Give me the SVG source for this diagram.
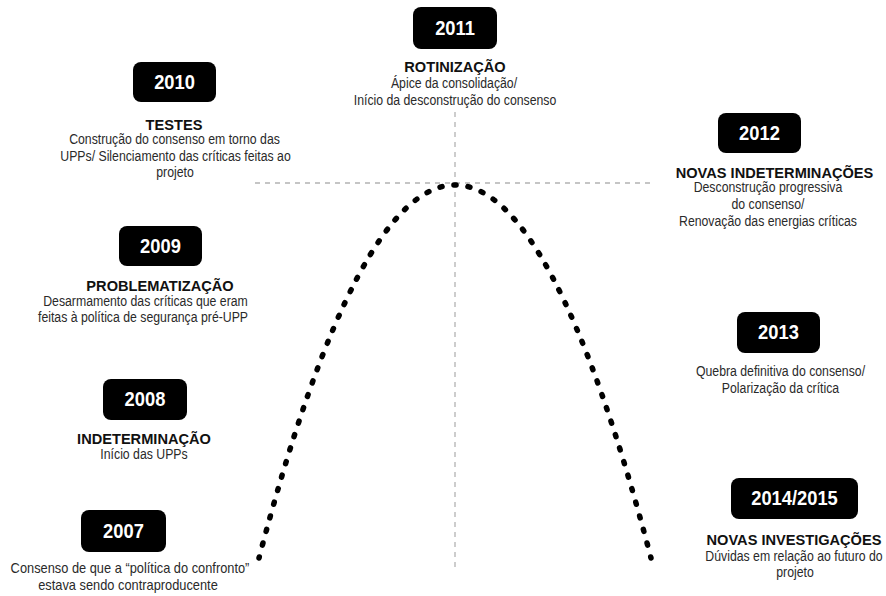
<svg xmlns="http://www.w3.org/2000/svg" width="886" height="596" viewBox="0 0 886 596">
<style>
  .box { fill: #000; }
  .yr { font-family: "Liberation Sans", Arial, sans-serif; font-weight: bold; font-size: 19.5px; fill: #fff; text-anchor: middle; }
  .ttl { font-family: "Liberation Sans", Arial, sans-serif; font-weight: bold; font-size: 14.6px; fill: #111; text-anchor: middle; }
  .txt { font-family: "Liberation Sans", Arial, sans-serif; font-size: 13.8px; fill: #2a2a2a; text-anchor: middle; }
  .guide { fill: none; stroke: #b3b3b3; stroke-width: 1.3; stroke-dasharray: 5 5; }
  .curve { fill: none; stroke: #000; stroke-width: 5.5; stroke-linecap: round; stroke-dasharray: 0.15 0.85; stroke-dashoffset: 0.075; }
</style>
<rect width="886" height="596" fill="#fff"/>
<g id="connectors">
  <line class="guide" x1="455" y1="112" x2="455" y2="572"/>
  <line class="guide" x1="255" y1="183" x2="655" y2="183"/>
  <path class="curve" pathLength="62" d="M259,558 Q455,-188 651,558"/>
</g>
<g id="n2007">
  <rect class="box" x="81" y="510" width="85" height="42" rx="8"/>
  <text class="yr" x="123.5" y="538" transform="translate(123.5,0) scale(0.94,1) translate(-123.5,0)">2007</text>
  <text class="txt" transform="translate(130,573) scale(0.93,1)">Consenso de que a “política do confronto”</text>
  <text class="txt" transform="translate(128,590) scale(0.93,1)">estava sendo contraproducente</text>
</g>
<g id="n2008">
  <rect class="box" x="103" y="379" width="84" height="41" rx="8"/>
  <text class="yr" x="145" y="406.5" transform="translate(145,0) scale(0.94,1) translate(-145,0)">2008</text>
  <text class="ttl" x="144" y="444">INDETERMINAÇÃO</text>
  <text class="txt" transform="translate(144,459) scale(0.89,1)">Início das UPPs</text>
</g>
<g id="n2009">
  <rect class="box" x="119" y="226" width="83" height="40" rx="8"/>
  <text class="yr" x="160.5" y="253" transform="translate(160.5,0) scale(0.94,1) translate(-160.5,0)">2009</text>
  <text class="ttl" x="160" y="291">PROBLEMATIZAÇÃO</text>
  <text class="txt" transform="translate(145.5,305.5) scale(0.89,1)">Desarmamento das críticas que eram</text>
  <text class="txt" transform="translate(143,322) scale(0.89,1)">feitas à política de segurança pré-UPP</text>
</g>
<g id="n2010">
  <rect class="box" x="133" y="62" width="83" height="40" rx="8"/>
  <text class="yr" x="174.5" y="89" transform="translate(174.5,0) scale(0.94,1) translate(-174.5,0)">2010</text>
  <text class="ttl" x="174" y="130">TESTES</text>
  <text class="txt" transform="translate(174.5,144) scale(0.89,1)">Construção do consenso em torno das</text>
  <text class="txt" transform="translate(175.5,160.5) scale(0.89,1)">UPPs/ Silenciamento das críticas feitas ao</text>
  <text class="txt" transform="translate(175,177) scale(0.89,1)">projeto</text>
</g>
<g id="n2011">
  <rect class="box" x="413" y="7" width="84" height="42" rx="8"/>
  <text class="yr" x="455" y="35" transform="translate(455,0) scale(0.94,1) translate(-455,0)">2011</text>
  <text class="ttl" x="455" y="72">ROTINIZAÇÃO</text>
  <text class="txt" transform="translate(454,88) scale(0.89,1)">Ápice da consolidação/</text>
  <text class="txt" transform="translate(455,105) scale(0.89,1)">Início da desconstrução do consenso</text>
</g>
<g id="n2012">
  <rect class="box" x="718" y="113" width="83" height="40" rx="8"/>
  <text class="yr" x="759.5" y="140" transform="translate(759.5,0) scale(0.94,1) translate(-759.5,0)">2012</text>
  <text class="ttl" x="774.5" y="178">NOVAS INDETERMINAÇÕES</text>
  <text class="txt" transform="translate(768,192) scale(0.89,1)">Desconstrução progressiva</text>
  <text class="txt" transform="translate(768,209) scale(0.89,1)">do consenso/</text>
  <text class="txt" transform="translate(768,226) scale(0.89,1)">Renovação das energias críticas</text>
</g>
<g id="n2013">
  <rect class="box" x="737" y="312" width="83" height="41" rx="8"/>
  <text class="yr" x="778.5" y="339.5" transform="translate(778.5,0) scale(0.94,1) translate(-778.5,0)">2013</text>
  <text class="txt" transform="translate(780.5,376) scale(0.89,1)">Quebra definitiva do consenso/</text>
  <text class="txt" transform="translate(780.5,393) scale(0.89,1)">Polarização da crítica</text>
</g>
<g id="n2014">
  <rect class="box" x="731" y="478" width="127" height="41" rx="8"/>
  <text class="yr" x="794.5" y="505.5" transform="translate(794.5,0) scale(0.94,1) translate(-794.5,0)">2014/2015</text>
  <text class="ttl" x="794" y="545">NOVAS INVESTIGAÇÕES</text>
  <text class="txt" transform="translate(794,561) scale(0.89,1)">Dúvidas em relação ao futuro do</text>
  <text class="txt" transform="translate(795,577) scale(0.89,1)">projeto</text>
</g>
</svg>
